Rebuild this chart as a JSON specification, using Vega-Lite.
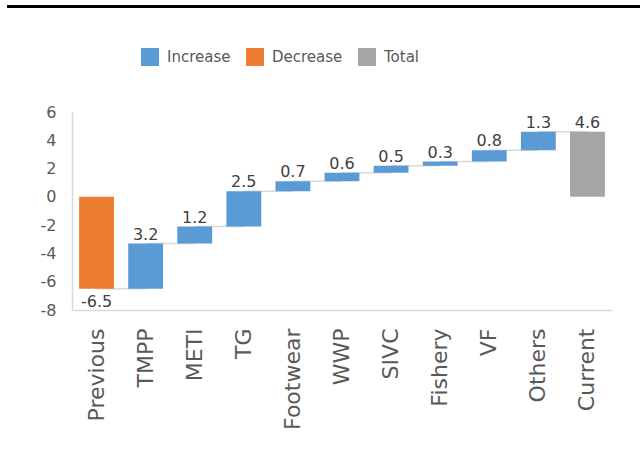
{
  "$schema": "https://vega.github.io/schema/vega-lite/v6.json",
  "padding": {"left": 7, "top": 5, "right": 0, "bottom": 0},
  "background": "white",
  "config": {
    "font": "DejaVu Sans",
    "view": {"stroke": null},
    "axisY": {"labelOverlap": false},
    "locale": {"number": {"decimal": ".", "thousands": ",", "grouping": [3], "currency": ["$", ""], "minus": "-"}}
  },
  "spacing": 40,
  "center": true,
  "resolve": {"legend": {"color": "independent"}},
  "vconcat": [
    {
      "width": 670,
      "height": 3,
      "view": {"fill": "black", "stroke": null},
      "data": {"values": [{"a": 1}]},
      "mark": {"type": "rect", "opacity": 0},
      "encoding": {}
    },
    {
      "width": 540,
      "height": 198,
      "data": {
        "values": [
          {"category": "Previous", "type": "Decrease", "start": 0, "end": -6.5, "amount": -6.5, "next": "TMPP"},
          {"category": "TMPP", "type": "Increase", "start": -6.5, "end": -3.3, "amount": 3.2, "next": "METI"},
          {"category": "METI", "type": "Increase", "start": -3.3, "end": -2.1, "amount": 1.2, "next": "TG"},
          {"category": "TG", "type": "Increase", "start": -2.1, "end": 0.4, "amount": 2.5, "next": "Footwear"},
          {"category": "Footwear", "type": "Increase", "start": 0.4, "end": 1.1, "amount": 0.7, "next": "WWP"},
          {"category": "WWP", "type": "Increase", "start": 1.1, "end": 1.7, "amount": 0.6, "next": "SIVC"},
          {"category": "SIVC", "type": "Increase", "start": 1.7, "end": 2.2, "amount": 0.5, "next": "Fishery"},
          {"category": "Fishery", "type": "Increase", "start": 2.2, "end": 2.5, "amount": 0.3, "next": "VF"},
          {"category": "VF", "type": "Increase", "start": 2.5, "end": 3.3, "amount": 0.8, "next": "Others"},
          {"category": "Others", "type": "Increase", "start": 3.3, "end": 4.6, "amount": 1.3, "next": "Current"},
          {"category": "Current", "type": "Total", "start": 0, "end": 4.6, "amount": 4.6, "next": null}
        ]
      },
      "encoding": {
        "x": {
          "field": "category",
          "type": "nominal",
          "sort": null,
          "scale": {
            "domain": ["Previous", "TMPP", "METI", "TG", "Footwear", "WWP", "SIVC", "Fishery", "VF", "Others", "Current"],
            "paddingInner": 0.29,
            "paddingOuter": 0.145
          },
          "axis": {
            "title": null,
            "labelAngle": -90,
            "labelFontSize": 22,
            "labelColor": "#595959",
            "ticks": false,
            "domainColor": "#D9D9D9",
            "domainWidth": 1.5,
            "labelPadding": 18
          }
        },
        "y": {
          "field": "end",
          "type": "quantitative",
          "title": null,
          "scale": {"domain": [-8, 6], "nice": false, "zero": false},
          "axis": {
            "title": null,
            "values": [-8, -6, -4, -2, 0, 2, 4, 6],
            "labelOverlap": false,
            "grid": false,
            "ticks": false,
            "labelFontSize": 16,
            "labelColor": "#595959",
            "labelPadding": 16,
            "domainColor": "#D9D9D9",
            "domainWidth": 1.5,
            "minExtent": 60
          }
        }
      },
      "layer": [
        {
          "transform": [{"filter": "datum.next != null"}],
          "mark": {"type": "rule", "color": "#D9D9D9", "strokeWidth": 1.5},
          "encoding": {
            "x2": {"field": "next"}
          }
        },
        {
          "mark": {"type": "bar"},
          "encoding": {
            "y": {"field": "start", "type": "quantitative", "title": null},
            "y2": {"field": "end"},
            "color": {
              "field": "type",
              "type": "nominal",
              "scale": {"domain": ["Increase", "Decrease", "Total"], "range": ["#5B9BD5", "#ED7D31", "#A5A5A5"]},
              "legend": {
                "title": null,
                "orient": "none",
                "legendX": 69,
                "legendY": -64,
                "direction": "horizontal",
                "symbolType": "square",
                "symbolSize": 324,
                "symbolStrokeWidth": 0,
                "labelFontSize": 15,
                "labelColor": "#595959",
                "labelOffset": 8,
                "columnPadding": 15,
                "padding": 0
              }
            }
          }
        },
        {
          "transform": [{"filter": "datum.type != 'Decrease'"}],
          "mark": {"type": "text", "fontSize": 16, "color": "#404040", "baseline": "bottom", "dy": -1},
          "encoding": {
            "text": {"field": "amount", "type": "quantitative", "format": ".1f"}
          }
        },
        {
          "transform": [{"filter": "datum.type == 'Decrease'"}],
          "mark": {"type": "text", "fontSize": 16, "color": "#404040", "baseline": "top", "dy": 5},
          "encoding": {
            "text": {"field": "amount", "type": "quantitative", "format": ".1f"}
          }
        }
      ]
    }
  ]
}
